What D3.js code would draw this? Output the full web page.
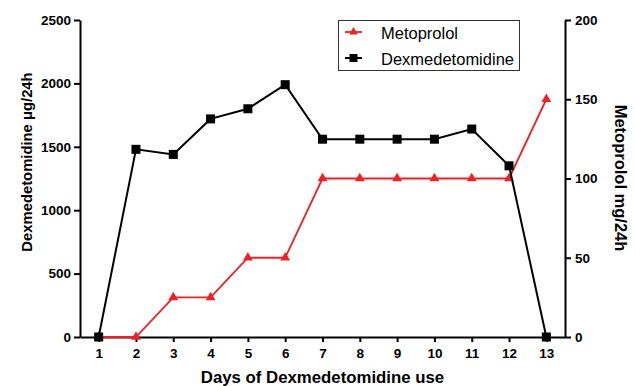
<!DOCTYPE html>
<html><head><meta charset="utf-8">
<script src="https://cdn.jsdelivr.net/npm/d3@7"></script>
<style>body{margin:0;background:#fff}svg{display:block;font-family:"Liberation Sans",Arial,sans-serif}</style>
</head><body><svg id="c" width="635" height="386"></svg>
<script>
const days = [1,2,3,4,5,6,7,8,9,10,11,12,13];
const dexValues = [0,1480,1440,1720,1800,1990,1560,1560,1560,1560,1640,1350,0];
const metoValues = [0,0,25,25,50,50,100,100,100,100,100,100,150];
const leftTicks = [0,500,1000,1500,2000,2500];
const rightTicks = [0,50,100,150,200];
const seriesNames = ["Metoprolol","Dexmedetomidine"];

const svg = d3.select("#c");
const L=80, R=565, T=20, B=337;
const x = d3.scaleLinear().domain([0.5,13.5]).range([L,R]);
const yL = d3.scaleLinear().domain([0,2500]).range([B,T]);
const yR = d3.scaleLinear().domain([0,200]).range([B,T]);
const red = "#ec2227";
const fmt = d3.format("d");

// axes
const ax = svg.append("g").attr("transform",`translate(0,${B})`)
  .call(d3.axisBottom(x).tickValues(days).tickFormat(fmt).tickSize(5).tickPadding(6).tickSizeOuter(0));
const al = svg.append("g").attr("transform",`translate(${L},0)`)
  .call(d3.axisLeft(yL).tickValues(leftTicks).tickFormat(fmt).tickSize(6).tickPadding(3).tickSizeOuter(0));
const ar = svg.append("g").attr("transform",`translate(${R},0)`)
  .call(d3.axisRight(yR).tickValues(rightTicks).tickFormat(fmt).tickSize(6).tickPadding(4).tickSizeOuter(0));
[ax,al,ar].forEach(g=>{
  g.selectAll("path.domain").attr("stroke","#000").attr("stroke-width",2);
  g.selectAll(".tick line").attr("stroke","#000").attr("stroke-width",2);
  g.selectAll("text").attr("font-size",13.5).attr("font-weight","bold").attr("fill","#000")
   .attr("font-family","Liberation Sans, Arial, sans-serif");
});

// titles
svg.append("text").attr("x",322.5).attr("y",383).attr("text-anchor","middle")
  .attr("font-size",16.8).attr("font-weight","bold").text("Days of Dexmedetomidine use");
svg.append("text").attr("transform","translate(32,162) rotate(-90)").attr("text-anchor","middle")
  .attr("font-size",14.8).attr("font-weight","bold").text("Dexmedetomidine μg/24h");
svg.append("text").attr("transform","translate(615,178) rotate(90)").attr("text-anchor","middle")
  .attr("font-size",16.5).attr("font-weight","bold").text("Metoprolol mg/24h");

// lines
const lineM = d3.line().x((d,i)=>x(days[i])).y(d=>yR(d));
const lineD = d3.line().x((d,i)=>x(days[i])).y(d=>yL(d));
svg.append("path").attr("d",lineM(metoValues)).attr("fill","none").attr("stroke",red).attr("stroke-width",1.8);
const tri = d3.symbol().type(d3.symbolTriangle).size(42);
svg.selectAll(".tm").data(metoValues).join("path")
  .attr("transform",(d,i)=>`translate(${x(days[i])},${yR(d)})`).attr("d",tri).attr("fill",red);
svg.append("path").attr("d",lineD(dexValues)).attr("fill","none").attr("stroke","#000").attr("stroke-width",2);
svg.selectAll(".sd").data(dexValues).join("rect")
  .attr("x",(d,i)=>x(days[i])-4.5).attr("y",d=>yL(d)-4.5).attr("width",9).attr("height",9).attr("fill","#000");

// legend
const lg = svg.append("g");
lg.append("rect").attr("x",338.5).attr("y",20.5).attr("width",181).attr("height",50)
  .attr("fill","#fff").attr("stroke","#333").attr("stroke-width",1);
const ly=[32,58];
lg.append("line").attr("x1",345).attr("x2",362).attr("y1",ly[0]).attr("y2",ly[0]).attr("stroke",red).attr("stroke-width",1.8);
lg.append("path").attr("transform",`translate(353.5,${ly[0]})`).attr("d",d3.symbol().type(d3.symbolTriangle).size(32)).attr("fill",red);
lg.append("line").attr("x1",345).attr("x2",362).attr("y1",ly[1]).attr("y2",ly[1]).attr("stroke","#000").attr("stroke-width",2);
lg.append("rect").attr("x",349.5).attr("y",ly[1]-4).attr("width",8).attr("height",8).attr("fill","#000");
seriesNames.forEach((n,i)=>lg.append("text").attr("x",381).attr("y",ly[i]+7).attr("font-size",16.5).attr("fill","#000").text(n));
</script></body></html>
